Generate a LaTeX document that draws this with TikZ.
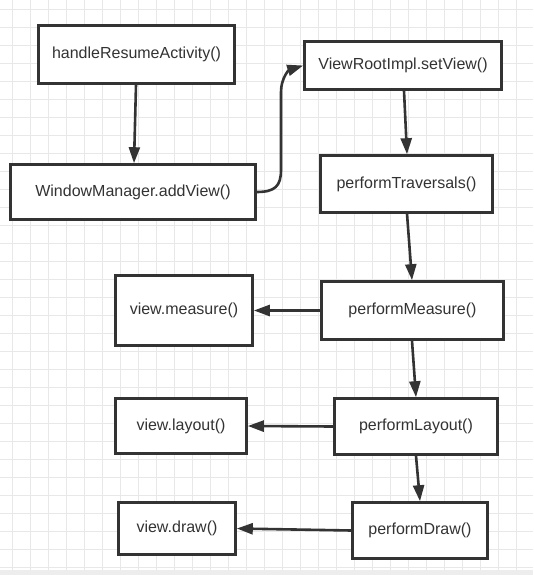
\documentclass[tikz,border=0pt]{standalone}
\usepackage{fontspec}
\setmainfont{Liberation Sans}
\usetikzlibrary{arrows.meta}
\definecolor{ink}{HTML}{333333}
\definecolor{gridc}{HTML}{E8E8E8}
\definecolor{bandc}{HTML}{EDEDED}
\begin{document}
\begin{tikzpicture}[x=1pt,y=-1pt,
  box/.style={draw=ink, line width=2.6pt, fill=white, text=ink,
    font=\fontsize{16}{18}\selectfont, inner sep=0pt},
  conn/.style={draw=ink, line width=2.6pt, -{Triangle[length=16pt,width=11pt]}},
  gridline/.style={draw=gridc, line width=0.8pt}]
\useasboundingbox (0,0) rectangle (533,575);
\fill[white] (0,0) rectangle (533,575);
\foreach \k in {0,...,28} \draw[gridline] (12.7+18*\k,0) -- (12.7+18*\k,570);
\foreach \k in {0,...,31} \draw[gridline] (0,9.3+18*\k) -- (533,9.3+18*\k);
\fill[bandc] (0,570) rectangle (533,575);

\node[box, minimum width=196pt, minimum height=58pt] (hra) at (136.5,54.5) {handleResumeActivity()};
\node[box, minimum width=245pt, minimum height=55pt] (wm) at (133,192) {WindowManager.addView()};
\node[box, minimum width=197pt, minimum height=48pt] (vri) at (403,65.5) {ViewRootImpl.setView()};
\node[box, minimum width=172pt, minimum height=57pt] (pt) at (406.5,184) {performTraversals()};
\node[box, minimum width=137pt, minimum height=70pt] (vm) at (184,310.5) {view.measure()};
\node[box, minimum width=182pt, minimum height=58pt] (pm) at (412.5,310.5) {performMeasure()};
\node[box, minimum width=131pt, minimum height=55pt] (vl) at (181,426) {view.layout()};
\node[box, minimum width=163pt, minimum height=56pt] (pl) at (416,426.5) {performLayout()};
\node[box, minimum width=117pt, minimum height=52pt] (vd) at (177,528.5) {view.draw()};
\node[box, minimum width=135pt, minimum height=56pt] (pd) at (420,530.5) {performDraw()};

\draw[conn] ([xshift=-0.5pt]hra.south) -- ([xshift=1pt]wm.north);
\draw[conn] (wm.east) .. controls (275,192) and (281,186) .. (281,170) -- (281,92)
  .. controls (281,78) and (289,70) .. (vri.west);
\draw[conn] ([xshift=1pt]vri.south) -- ([xshift=0.5pt]pt.north);
\draw[conn] ([xshift=0.5pt]pt.south) -- ([xshift=-0.5pt]pm.north);
\draw[conn] ([xshift=-0.5pt]pm.south) -- (pl.north);
\draw[conn] (pl.south) -- (pd.north);
\draw[conn] (pm.west) -- (vm.east);
\draw[conn] (pl.west) -- (vl.east);
\draw[conn] (pd.west) -- (vd.east);
\end{tikzpicture}
\end{document}
